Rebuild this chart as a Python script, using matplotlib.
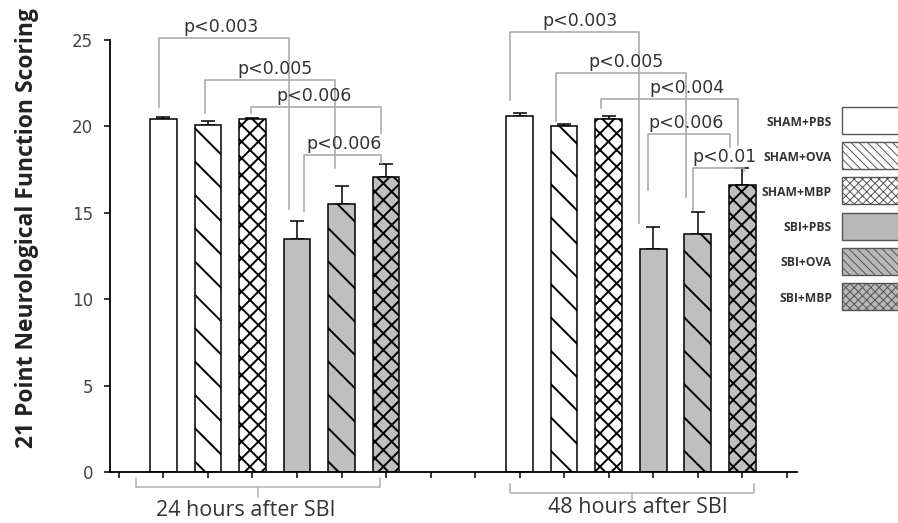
import numpy as np
import matplotlib
matplotlib.use("Agg")
import matplotlib.pyplot as plt
import matplotlib.patches as patches

groups = ["24 hours after SBI", "48 hours after SBI"]
treatments = ["SHAM+PBS", "SHAM+OVA", "SHAM+MBP", "SBI+PBS", "SBI+OVA", "SBI+MBP"]

# media y error (solo hacia arriba) de cada barra
score_24h = [20.4, 20.1, 20.4, 13.5, 15.5, 17.1]
err_24h = [0.15, 0.2, 0.1, 1.0, 1.05, 0.7]
score_48h = [20.6, 20.0, 20.4, 12.9, 13.8, 16.6]
err_48h = [0.2, 0.15, 0.2, 1.25, 1.25, 1.0]

# corchetes de significancia: (x izq, x der, altura, pie izq, pie der, texto, x texto)
brackets = [
    (0.91, 3.83, 25.1, 21.1, 15.2, "p<0.003", 2.30),
    (1.94, 4.86, 22.7, 20.8, 17.6, "p<0.005", 3.51),
    (2.97, 5.88, 21.1, 20.8, 19.6, "p<0.006", 4.38),
    (4.15, 5.88, 18.35, 15.1, 17.9, "p<0.006", 5.05),
    (8.78, 11.68, 25.45, 21.5, 14.4, "p<0.003", 10.35),
    (9.82, 12.73, 23.1, 20.3, 15.9, "p<0.005", 11.40),
    (10.83, 13.91, 21.57, 21.05, 18.9, "p<0.004", 12.75),
    (11.88, 13.72, 19.54, 16.3, 18.8, "p<0.006", 12.75),
    (12.90, 14.05, 17.57, 15.16, 17.4, "p<0.01", 13.61),
]

colores = ["white", "white", "white", "#bfbfbf", "#bfbfbf", "#bfbfbf"]
tramas = ["", "\\", "xx", "", "\\", "xx"]
tramas_leyenda = ["", "\\\\\\\\", "xxxx", "", "\\\\\\\\", "xxxx"]

plt.rcParams["hatch.linewidth"] = 1.4
plt.rcParams["font.family"] = ["DejaVu Sans"]

fig = plt.figure(figsize=(8.98, 5.23), dpi=100)
ax = fig.add_axes([0.1225, 0.0975, 0.765, 0.826])

pos_24 = np.arange(1, 7)
pos_48 = np.arange(9, 15)

for pos, vals, errs in [(pos_24, score_24h, err_24h), (pos_48, score_48h, err_48h)]:
    for i in range(6):
        ax.bar(pos[i], vals[i], width=0.6, color=colores[i], edgecolor="black",
               linewidth=1.1, hatch=tramas[i], zorder=2)
    ax.errorbar(pos, vals, yerr=[np.zeros(6), errs], fmt="none", ecolor="black",
                elinewidth=1.1, capsize=5, capthick=1.1, zorder=1)

# corchetes con p
for xl, xr, y, yl, yr, txt, xt in brackets:
    ax.plot([xl, xl, xr, xr], [yl, y, y, yr], color="#ababab", lw=1.2,
            clip_on=False, zorder=3)
    ax.text(xt, y + 0.12, txt, ha="center", va="bottom", fontsize=12.5,
            color="#333333", clip_on=False, zorder=4)

ax.set_xlim(-0.2, 15.23)
ax.set_ylim(0, 25)
ax.set_xticks(np.arange(0, 16))
ax.set_xticklabels([])
ax.set_yticks([0, 5, 10, 15, 20, 25])
ax.tick_params(axis="y", direction="out", length=4, width=1.1, labelsize=12,
               labelcolor="#444444", pad=8)
ax.tick_params(axis="x", direction="out", length=4.5, width=1.1)
for s in ["top", "right"]:
    ax.spines[s].set_visible(False)
for s in ["left", "bottom"]:
    ax.spines[s].set_linewidth(1.3)

ax.set_ylabel("21 Point Neurological Function Scoring", fontsize=16.5,
              fontweight="bold", family="Open Sans", color="#222222")
ax.yaxis.set_label_coords(-0.104, 0.564)

# llaves de grupo bajo el eje
xt = ax.get_xaxis_transform()
llaves = [(0.39, 5.86, 3.12, -0.0354, -0.0139, -0.057, 2.84, -0.088),
          (8.78, 14.26, 11.52, -0.0486, -0.0278, -0.0648, 11.66, -0.083)]
for (x0, x1, xc, yh, yu, yd, xtx, ytx), g in zip(llaves, groups):
    ax.plot([x0, x0, x1, x1], [yu, yh, yh, yu], color="#b0b0b0", lw=1.1,
            transform=xt, clip_on=False)
    ax.plot([xc, xc], [yh, yd], color="#b0b0b0", lw=1.1, transform=xt, clip_on=False)
    ax.text(xtx, ytx, g, ha="center", va="center", fontsize=15.5, family="Open Sans",
            color="#333333", transform=xt, clip_on=False)

# leyenda hecha a mano a la derecha
for i, t in enumerate(treatments):
    top = 107 + 35.2 * i
    y0 = (523 - top - 27) / 523
    rect = patches.Rectangle((842 / 898, y0), 0.1, 27 / 523, transform=fig.transFigure,
                             facecolor="#b8b8b8" if i >= 3 else "white",
                             edgecolor="#555555", linewidth=1.0, hatch=tramas_leyenda[i])
    if hasattr(rect, "set_hatch_linewidth"):
        rect.set_hatch_linewidth(0.7)
    fig.patches.append(rect)
    fig.text(832 / 898, (523 - top - 15) / 523, t, ha="right", va="center", fontsize=8.7,
             fontweight="bold", family="Open Sans", color="#333333")

fig.savefig("out.png", dpi=100)
